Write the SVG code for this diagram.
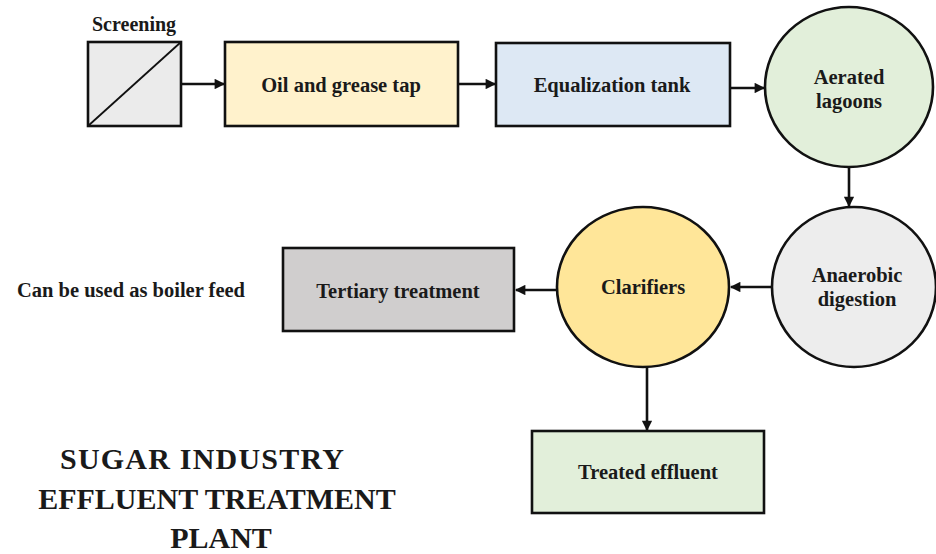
<svg xmlns="http://www.w3.org/2000/svg" width="936" height="554" viewBox="0 0 936 554">
<style>
text{font-family:'Liberation Serif','Tinos','Times New Roman','Noto Serif','DejaVu Serif',serif;font-weight:700;fill:#1a1a1a;}
.lbl{font-size:20.5px;text-anchor:middle;}
.title{font-size:30px;text-anchor:middle;}
.shape{stroke:#111;stroke-width:2.6;}
.conn{stroke:#111;stroke-width:2.6;fill:none;marker-end:url(#ah);}
</style>
<defs>
<marker id="ah" viewBox="0 0 10 10" refX="9" refY="5" markerWidth="4.4" markerHeight="4" orient="auto" markerUnits="strokeWidth">
<path d="M0,0 L10,5 L0,10 Z" fill="#111"/>
</marker>
</defs>
<rect width="936" height="554" fill="#ffffff"/>
<g id="connectors">
<line class="conn" x1="181" y1="84" x2="224" y2="84"/>
<line class="conn" x1="458" y1="84" x2="495" y2="84"/>
<line class="conn" x1="730" y1="88" x2="764" y2="88"/>
<line class="conn" x1="849" y1="167" x2="849" y2="206"/>
<line class="conn" x1="772" y1="287" x2="731" y2="287"/>
<line class="conn" x1="557" y1="290" x2="516" y2="290"/>
<line class="conn" x1="647" y1="367" x2="647" y2="430"/>
</g>
<g id="screening">
<text x="92" y="31" style="font-size:20px">Screening</text>
<rect class="shape" x="88" y="42" width="93" height="84" fill="#ebebeb"/>
<line x1="88" y1="126" x2="181" y2="42" stroke="#111" stroke-width="1.8"/>
</g>
<g id="oil">
<rect class="shape" x="225" y="42" width="233" height="84" fill="#fff2cc"/>
<text class="lbl" x="341" y="92">Oil and grease tap</text>
</g>
<g id="equalization">
<rect class="shape" x="496" y="43" width="234" height="83" fill="#dde8f4"/>
<text class="lbl" x="612" y="92">Equalization tank</text>
</g>
<g id="aerated">
<ellipse class="shape" cx="849" cy="87" rx="84" ry="80" fill="#e2efda"/>
<text class="lbl" x="849" y="84">Aerated</text>
<text class="lbl" x="849" y="108">lagoons</text>
</g>
<g id="anaerobic">
<ellipse class="shape" cx="854" cy="287" rx="82" ry="80" fill="#ededed"/>
<text class="lbl" x="857" y="282">Anaerobic</text>
<text class="lbl" x="857" y="306">digestion</text>
</g>
<g id="clarifiers">
<ellipse class="shape" cx="643" cy="287" rx="86" ry="80" fill="#ffe699"/>
<text class="lbl" x="643" y="294">Clarifiers</text>
</g>
<g id="tertiary">
<rect class="shape" x="283" y="248" width="231" height="83" fill="#d0cece"/>
<text class="lbl" x="398" y="298">Tertiary treatment</text>
</g>
<g id="treated">
<rect class="shape" x="532" y="431" width="232" height="82" fill="#e2efda"/>
<text class="lbl" x="648" y="479">Treated effluent</text>
</g>
<g id="note">
<text x="17" y="297" style="font-size:20.5px">Can be used as boiler feed</text>
</g>
<g id="title">
<text class="title" x="202" y="469" textLength="284" lengthAdjust="spacing">SUGAR INDUSTRY</text>
<text class="title" x="217" y="509">EFFLUENT TREATMENT</text>
<text class="title" x="221" y="548">PLANT</text>
</g>
</svg>
